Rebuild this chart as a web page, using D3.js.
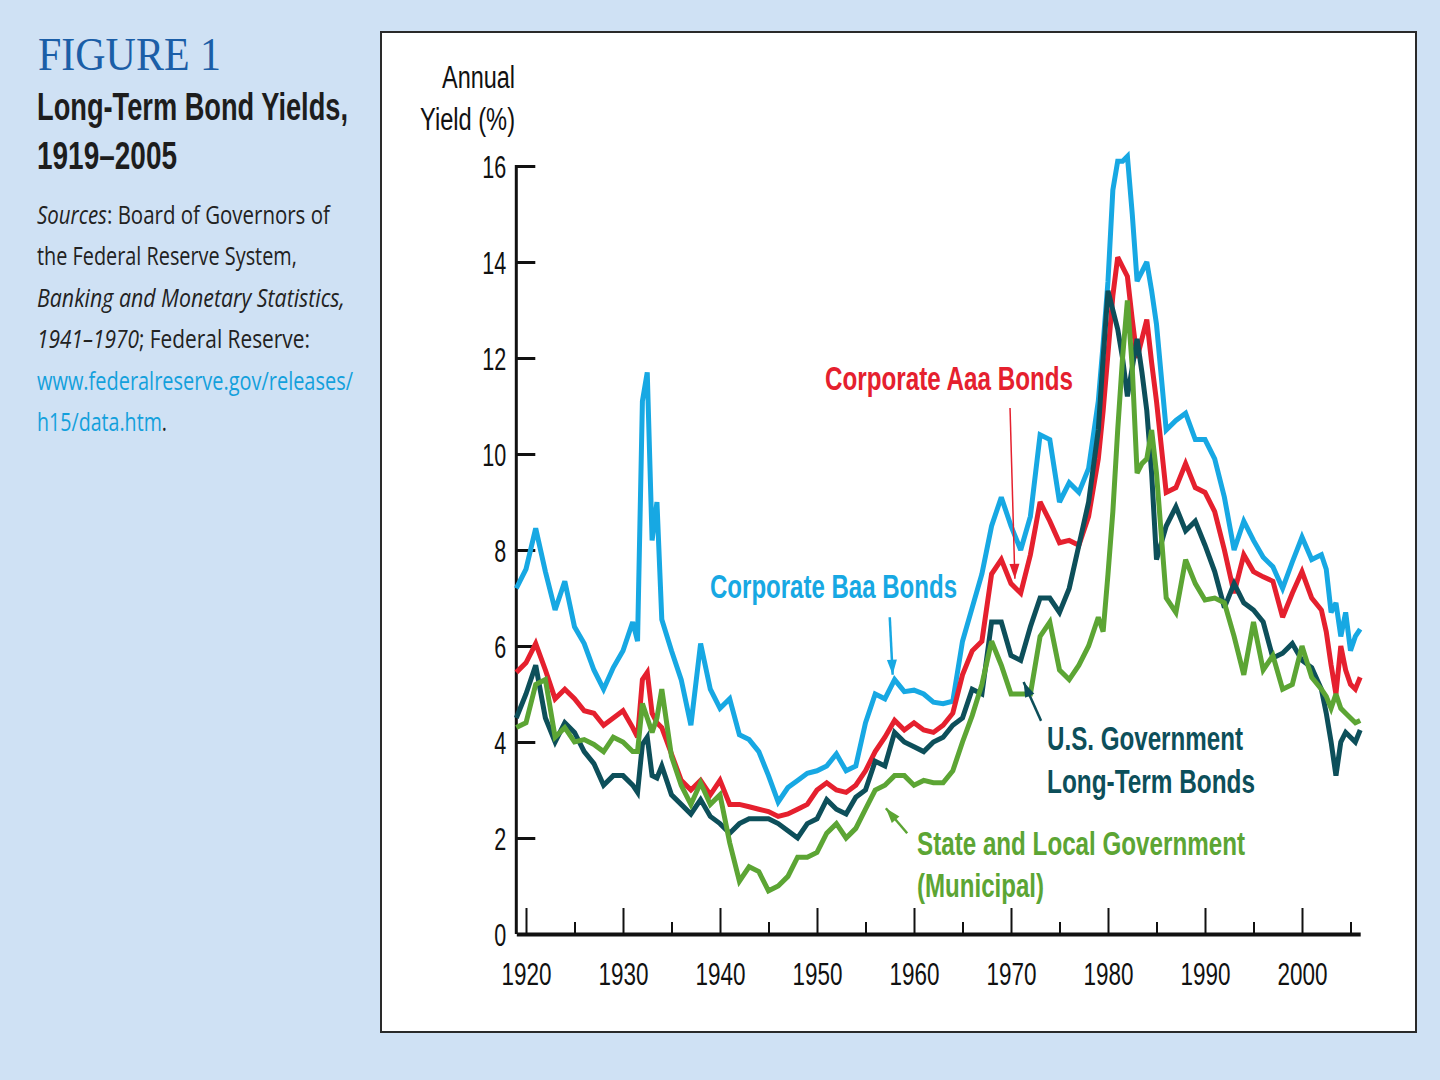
<!DOCTYPE html>
<html>
<head>
<meta charset="utf-8">
<script src="https://cdn.jsdelivr.net/npm/d3@7"></script>
<style>
  body { margin: 0; background: #cfe1f4; }
  svg { display: block; }
</style>
</head>
<body>
<div class="chart"></div>
<script>
// time points (years, extra half-years around the spikes)
const years = [
  1919, 1920, 1921, 1922, 1923, 1924, 1925, 1926, 1927, 1928, 1929, 1930,
  1931, 1931.5, 1932, 1932.5, 1933, 1933.5, 1934,
  1935, 1936, 1937, 1938, 1939, 1940, 1941, 1942, 1943, 1944, 1945, 1946,
  1947, 1948, 1949, 1950, 1951, 1952, 1953, 1954, 1955, 1956, 1957, 1958,
  1959, 1960, 1961, 1962, 1963, 1964, 1965, 1966, 1967, 1968, 1969, 1970,
  1971, 1972, 1973, 1974, 1975, 1976, 1977, 1978,
  1979, 1979.5, 1980, 1980.5, 1981, 1981.5, 1982, 1982.5, 1983, 1983.5, 1984, 1984.5,
  1985, 1986, 1987, 1988, 1989, 1990, 1991, 1992, 1993, 1994, 1995, 1996,
  1997, 1998, 1999, 2000, 2001,
  2002, 2002.5, 2003, 2003.5, 2004, 2004.5, 2005, 2005.5, 2006
];

const baa = [
  7.2, 7.6, 8.45, 7.55, 6.75, 7.35, 6.4, 6.05, 5.5, 5.1, 5.55, 5.9,
  6.5, 6.1, 11.1, 11.7, 8.2, 9.0, 6.55,
  5.9, 5.3, 4.35, 6.05, 5.1, 4.7, 4.9, 4.15, 4.05, 3.8, 3.3, 2.75,
  3.05, 3.2, 3.35, 3.4, 3.5, 3.75, 3.4, 3.5, 4.4, 5.0, 4.9, 5.3,
  5.05, 5.08, 5.0, 4.83, 4.8, 4.85, 6.1, 6.8, 7.5, 8.5, 9.1, 8.5,
  8.0, 8.7, 10.4, 10.3, 9.0, 9.4, 9.2, 9.7,
  11.1, 12.3, 13.6, 15.5, 16.1, 16.1, 16.2, 15.0, 13.6, 13.8, 14.0, 13.4,
  12.7, 10.5, 10.7, 10.85, 10.3, 10.3, 9.9, 9.1, 8.0, 8.6, 8.2, 7.85,
  7.65, 7.2, 7.75, 8.27, 7.8,
  7.9, 7.6, 6.7, 6.9, 6.2, 6.7, 5.9, 6.2, 6.35
];

const aaa = [
  5.45, 5.65, 6.05, 5.5, 4.9, 5.1, 4.9, 4.65, 4.6, 4.35, 4.5, 4.65,
  4.3, 4.1, 5.3, 5.45, 4.6, 4.4, 4.3,
  3.75, 3.2, 3.0, 3.2, 2.9, 3.2, 2.7, 2.7, 2.65, 2.6, 2.55, 2.45,
  2.5, 2.6, 2.7, 3.0, 3.15, 3.0, 2.95, 3.1, 3.4, 3.8, 4.1, 4.45,
  4.25, 4.4, 4.25, 4.2, 4.35, 4.6, 5.4, 5.9, 6.1, 7.5, 7.8, 7.3,
  7.1, 7.9, 9.0, 8.6, 8.15, 8.2, 8.1, 8.7,
  9.9, 10.9, 12.1, 13.3, 14.1, 13.9, 13.7, 12.8, 12.0, 12.4, 12.8, 11.9,
  11.1, 9.2, 9.3, 9.8, 9.3, 9.2, 8.8, 8.0, 7.1, 7.9, 7.55, 7.44,
  7.35, 6.6, 7.1, 7.55, 7.0,
  6.75, 6.3, 5.6, 5.0, 6.0, 5.5, 5.2, 5.1, 5.35
];

const usGov = [
  4.5, 5.0, 5.6, 4.5, 4.0, 4.4, 4.2, 3.8, 3.55, 3.1, 3.3, 3.3,
  3.1, 2.95, 3.95, 4.1, 3.3, 3.25, 3.5,
  2.9, 2.7, 2.5, 2.8, 2.45, 2.3, 2.1, 2.3, 2.4, 2.4, 2.4, 2.3,
  2.15, 2.0, 2.3, 2.4, 2.8, 2.6, 2.5, 2.85, 3.0, 3.6, 3.5, 4.2,
  4.0, 3.9, 3.8, 4.0, 4.1, 4.35, 4.5, 5.1, 5.0, 6.5, 6.5, 5.8,
  5.7, 6.4, 7.0, 7.0, 6.7, 7.2, 8.1, 9.0,
  10.5, 12.0, 13.4, 13.0, 12.6, 12.0, 11.2, 11.8, 12.4, 11.7, 10.9, 9.6,
  7.8, 8.5, 8.9, 8.4, 8.6, 8.1, 7.55, 6.8, 7.3, 6.9, 6.75, 6.5,
  5.75, 5.85, 6.05, 5.7, 5.55,
  5.1, 4.6, 4.0, 3.3, 4.0, 4.2, 4.1, 4.0, 4.25
];

const muni = [
  4.3, 4.4, 5.2, 5.3, 4.1, 4.3, 4.0, 4.05, 3.95, 3.8, 4.1, 4.0,
  3.8, 3.8, 4.8, 4.5, 4.2, 4.5, 5.1,
  3.7, 3.1, 2.7, 3.15, 2.7, 2.9, 1.9, 1.1, 1.4, 1.3, 0.9, 1.0,
  1.2, 1.6, 1.6, 1.7, 2.1, 2.3, 2.0, 2.2, 2.6, 3.0, 3.1, 3.3,
  3.3, 3.1, 3.2, 3.15, 3.15, 3.4, 4.0, 4.55, 5.2, 6.1, 5.6, 5.0,
  5.0, 5.0, 6.2, 6.5, 5.5, 5.3, 5.6, 6.0,
  6.6, 6.3, 7.5, 8.8, 10.5, 12.0, 13.2, 11.8, 9.6, 9.8, 9.9, 10.5,
  9.6, 7.0, 6.7, 7.8, 7.3, 6.96, 7.0, 6.9, 6.2, 5.4, 6.5, 5.5,
  5.8, 5.1, 5.2, 6.0, 5.35,
  5.1, 4.95, 4.7, 5.0, 4.7, 4.6, 4.5, 4.4, 4.45
];

// tick labels
const yTicks = [0, 2, 4, 6, 8, 10, 12, 14, 16];
const xMajorTicks = [1920, 1930, 1940, 1950, 1960, 1970, 1980, 1990, 2000];
const xMinorTicks = [1925, 1935, 1945, 1955, 1965, 1975, 1985, 1995, 2005];

const series = [
  { name: "baa", values: baa, color: "#17a8e3" },
  { name: "aaa", values: aaa, color: "#e5202e" },
  { name: "usGov", values: usGov, color: "#0d4f5a" },
  { name: "muni", values: muni, color: "#5ca534" }
];

const narrow = "'Liberation Sans Narrow', 'Liberation Sans', Arial, sans-serif";

//select and create svg
const svg = d3.select(".chart")
  .append("svg")
    .attr("width", 1440)
    .attr("height", 1080);

svg.append("rect")
  .attr("width", 1440)
  .attr("height", 1080)
  .style("fill", "#cfe1f4");

//LEFT PANEL
svg.append("text")
  .attr("x", 38)
  .attr("y", 70)
  .attr("textLength", 183)
  .attr("lengthAdjust", "spacingAndGlyphs")
  .style("font-family", "'Liberation Serif', 'DejaVu Serif', serif")
  .style("font-size", "46px")
  .style("fill", "#1b5ea7")
  .text("FIGURE 1");

const titleLines = [
  { text: "Long-Term Bond Yields,", y: 120, w: 311 },
  { text: "1919–2005", y: 169, w: 140 }
];
svg.selectAll(".title-line")
  .data(titleLines)
  .enter().append("text")
  .attr("class", "title-line")
  .attr("x", 37)
  .attr("y", d => d.y)
  .attr("textLength", d => d.w)
  .attr("lengthAdjust", "spacingAndGlyphs")
  .style("font-family", narrow)
  .style("font-weight", "700")
  .style("font-size", "39px")
  .style("fill", "#1d1d1d")
  .text(d => d.text);

//sources, each line as parts [text, italic, link]
const sourceLines = [
  { y: 224, w: 293, parts: [["Sources", true, false], [": Board of Governors of", false, false]] },
  { y: 265, w: 260, parts: [["the Federal Reserve System,", false, false]] },
  { y: 307, w: 308, parts: [["Banking and Monetary Statistics,", true, false]] },
  { y: 348, w: 273, parts: [["1941–1970", true, false], ["; Federal Reserve:", false, false]] },
  { y: 390, w: 316, parts: [["www.federalreserve.gov/releases/", false, true]] },
  { y: 431, w: 130, parts: [["h15/data.htm", false, true], [".", false, false]] }
];
//parts placed one after another, then the line squeezed to its width
sourceLines.forEach(line => {
  const g = svg.append("g").attr("class", "source-line");
  let xPos = 0;
  line.parts.forEach(p => {
    const t = g.append("text")
      .attr("x", xPos)
      .attr("y", line.y)
      .style("font-family", "'Open Sans', 'Noto Sans', sans-serif")
      .style("font-size", "25px")
      .style("font-style", p[1] ? "italic" : "normal")
      .style("fill", p[2] ? "#13a0dc" : "#222222")
      .text(p[0]);
    xPos += t.node().getComputedTextLength();
  });
  g.attr("transform", `translate(37,0) scale(${line.w / xPos},1)`);
});

//CHART FRAME
svg.append("rect")
  .attr("x", 381)
  .attr("y", 32)
  .attr("width", 1035)
  .attr("height", 1000)
  .style("fill", "#ffffff")
  .style("stroke", "#2a2a2a")
  .style("stroke-width", "2px");

//SCALES
const xScale = d3.scaleLinear()
  .domain([1919, 2006])
  .range([516.3, 1360.2]);

const yScale = d3.scaleLinear()
  .domain([0, 16])
  .range([934, 166]);

//yAxis
const yAxisGenerator = d3.axisLeft(yScale)
  .tickValues(yTicks)
  .tickSize(-19)
  .tickSizeOuter(0)
  .tickPadding(10)
  .tickFormat(d3.format("d"));
const yAxis = svg.append("g")
  .attr("transform", "translate(516.3,0)")
  .call(yAxisGenerator);
yAxis.select(".domain")
  .attr("d", `M0,${yScale(0)}V${yScale(16) - 1}`)
  .style("stroke", "#111")
  .style("stroke-width", "3px");
yAxis.selectAll(".tick line")
  .style("stroke", "#111")
  .style("stroke-width", "3px")
  .filter(d => d === 0).remove();
yAxis.selectAll(".tick text")
  .attr("dy", "0.36em")
  .attr("textLength", d => d >= 10 ? 24 : 12)
  .attr("lengthAdjust", "spacingAndGlyphs")
  .style("font-family", narrow)
  .style("font-size", "32px")
  .style("fill", "#111");

//y axis title, left-aligned so its right edge meets the axis
const yTitle = [
  { text: "Annual", y: 88, w: 73 },
  { text: "Yield (%)", y: 130, w: 95 }
];
svg.selectAll(".y-title")
  .data(yTitle)
  .enter().append("text")
  .attr("class", "y-title")
  .attr("x", d => 515 - d.w)
  .attr("y", d => d.y)
  .attr("textLength", d => d.w)
  .attr("lengthAdjust", "spacingAndGlyphs")
  .style("font-family", narrow)
  .style("font-size", "31px")
  .style("fill", "#111")
  .text(d => d.text);

//xAxis major
const xAxisGenerator = d3.axisBottom(xScale)
  .tickValues(xMajorTicks)
  .tickSize(-26)
  .tickSizeOuter(0)
  .tickPadding(28)
  .tickFormat(d3.format("d"));
const xAxis = svg.append("g")
  .attr("transform", `translate(0,${yScale(0)})`)
  .call(xAxisGenerator);
xAxis.select(".domain")
  .style("stroke", "#111")
  .style("stroke-width", "4px");
xAxis.selectAll(".tick line")
  .style("stroke", "#111")
  .style("stroke-width", "2px");
xAxis.selectAll(".tick text")
  .attr("textLength", 50)
  .attr("lengthAdjust", "spacingAndGlyphs")
  .style("font-family", narrow)
  .style("font-size", "32px")
  .style("fill", "#111");

//xAxis minor
const xMinorGenerator = d3.axisBottom(xScale)
  .tickValues(xMinorTicks)
  .tickSize(-12)
  .tickSizeOuter(0)
  .tickFormat("");
const xMinor = svg.append("g")
  .attr("transform", `translate(0,${yScale(0)})`)
  .call(xMinorGenerator);
xMinor.select(".domain").remove();
xMinor.selectAll(".tick line")
  .style("stroke", "#111")
  .style("stroke-width", "2px");

//CHART
const lineGenerator = d3.line()
  .x((d, i) => xScale(years[i]))
  .y(d => yScale(d));

svg.selectAll(".series-line")
  .data(series)
  .enter().append("path")
  .attr("class", "series-line")
  .attr("d", d => lineGenerator(d.values))
  .style("fill", "none")
  .style("stroke", d => d.color)
  .style("stroke-width", "5px")
  .style("stroke-linejoin", "miter")
  .style("stroke-miterlimit", 3);

//LABELS
const labels = [
  { text: "Corporate Aaa Bonds", x: 825, y: 390, w: 248, color: "#e5202e" },
  { text: "Corporate Baa Bonds", x: 710, y: 598, w: 247, color: "#17a8e3" },
  { text: "U.S. Government", x: 1047, y: 750, w: 196, color: "#0d4f5a" },
  { text: "Long-Term Bonds", x: 1047, y: 793, w: 208, color: "#0d4f5a" },
  { text: "State and Local Government", x: 917, y: 855, w: 328, color: "#5ca534" },
  { text: "(Municipal)", x: 917, y: 897, w: 127, color: "#5ca534" }
];
svg.selectAll(".series-label")
  .data(labels)
  .enter().append("text")
  .attr("class", "series-label")
  .attr("x", d => d.x)
  .attr("y", d => d.y)
  .attr("textLength", d => d.w)
  .attr("lengthAdjust", "spacingAndGlyphs")
  .style("font-family", narrow)
  .style("font-weight", "700")
  .style("font-size", "33px")
  .style("fill", d => d.color)
  .text(d => d.text);

//arrows, in data units: from [year, value] to tip [year, value]
const arrows = [
  { from: [1969.9, 10.96], to: [1970.4, 7.4], color: "#e5202e", w: 1.5 },
  { from: [1957.5, 6.6], to: [1957.8, 5.4], color: "#17a8e3", w: 2.5 },
  { from: [1973.1, 4.44], to: [1971.3, 5.25], color: "#0d4f5a", w: 2.5 },
  { from: [1959.3, 2.1], to: [1957.1, 2.62], color: "#5ca534", w: 2.5 }
];
const arrowG = svg.selectAll(".arrow")
  .data(arrows)
  .enter().append("g")
  .attr("class", "arrow");
arrowG.append("line")
  .attr("x1", d => xScale(d.from[0]))
  .attr("y1", d => yScale(d.from[1]))
  .attr("x2", d => xScale(d.to[0]))
  .attr("y2", d => yScale(d.to[1]))
  .style("stroke", d => d.color)
  .style("stroke-width", d => d.w + "px");
arrowG.append("path")
  .attr("d", d => {
    const x1 = xScale(d.from[0]), y1 = yScale(d.from[1]);
    const x2 = xScale(d.to[0]), y2 = yScale(d.to[1]);
    const a = Math.atan2(y2 - y1, x2 - x1);
    const len = 15, half = 5;
    const bx = x2 - len * Math.cos(a), by = y2 - len * Math.sin(a);
    const px = -Math.sin(a) * half, py = Math.cos(a) * half;
    return `M${x2},${y2}L${bx + px},${by + py}L${bx - px},${by - py}Z`;
  })
  .style("fill", d => d.color);
</script>
</body>
</html>
